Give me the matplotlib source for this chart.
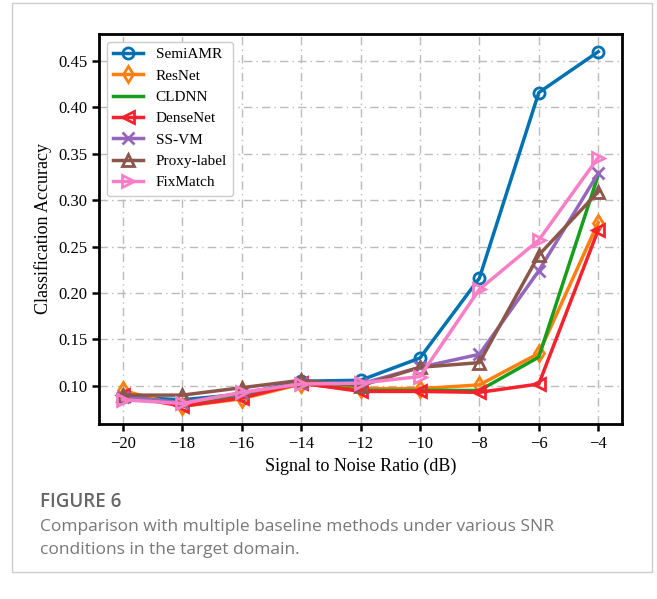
import numpy as np
import matplotlib
matplotlib.use("Agg")
import matplotlib.pyplot as plt
from matplotlib.patches import Rectangle

snr = [-20, -18, -16, -14, -12, -10, -8, -6, -4]

semiamr = [0.088, 0.085, 0.091, 0.105, 0.106, 0.130, 0.216, 0.416, 0.460]
resnet = [0.095, 0.078, 0.086, 0.102, 0.097, 0.097, 0.101, 0.135, 0.276]
cldnn = [0.090, 0.080, 0.088, 0.103, 0.095, 0.095, 0.095, 0.131, 0.327]
densenet = [0.090, 0.078, 0.087, 0.103, 0.094, 0.094, 0.093, 0.102, 0.268]
ssvm = [0.088, 0.082, 0.092, 0.103, 0.102, 0.120, 0.134, 0.224, 0.329]
proxy = [0.090, 0.090, 0.098, 0.106, 0.100, 0.120, 0.125, 0.241, 0.309]
fixmatch = [0.085, 0.081, 0.093, 0.102, 0.103, 0.110, 0.204, 0.257, 0.346]

names = ["SemiAMR", "ResNet", "CLDNN", "DenseNet", "SS-VM", "Proxy-label", "FixMatch"]
series = [semiamr, resnet, cldnn, densenet, ssvm, proxy, fixmatch]
markers = ["o", "d", None, "<", "x", "^", ">"]
colors = ["#0072b2", "#ff7f0e", "#169d1b", "#f5222d", "#9467bd", "#8c564b", "#f77fc6"]

plt.rcParams['font.family'] = ['Liberation Serif', 'DejaVu Serif']

fig = plt.figure(figsize=(6.57, 5.99), dpi=100)
# outer caption box
fig.patches.append(Rectangle((12/657, 1-572/599), 640/657, 569/599,
                             transform=fig.transFigure, fill=False,
                             edgecolor="#cccccc", linewidth=1.0))

ax = fig.add_axes([99/657, 1-424/599, 523/657, 390/599])
for name, vals, m, c in zip(names, series, markers, colors):
    ax.plot(snr, vals, color=c, marker=m, markersize=8, markerfacecolor="none",
            markeredgewidth=2, linewidth=2.5, label=name)

ax.grid(True, linestyle=(0, (6, 3, 1, 3)), color="#bbbbbb", linewidth=1.0)
ax.set_xticks(snr)
ax.set_xticklabels(["\u2212%d" % abs(v) for v in snr])
ax.set_yticks([0.10, 0.15, 0.20, 0.25, 0.30, 0.35, 0.40, 0.45])
ax.tick_params(labelsize=12, width=1.8, length=5)
for s in ax.spines.values():
    s.set_linewidth(2.0)
ax.set_xlabel("Signal to Noise Ratio (dB)", fontsize=13)
ax.set_ylabel("Classification Accuracy", fontsize=13)
ax.legend(loc="upper left", fontsize=11, handlelength=2.0, borderpad=0.4,
          labelspacing=0.5, framealpha=1.0)

fig.text(40/657, 1-502/599, "FIGURE 6", fontsize=13.5, fontweight="semibold",
         color="#666666", family="Open Sans", va="center")
fig.text(40/657, 1-527/599, "Comparison with multiple baseline methods under various SNR",
         fontsize=12.5, color="#777777", family="Open Sans", va="center")
fig.text(40/657, 1-550/599, "conditions in the target domain.",
         fontsize=12.5, color="#777777", family="Open Sans", va="center")

fig.savefig("out.png", dpi=100)
